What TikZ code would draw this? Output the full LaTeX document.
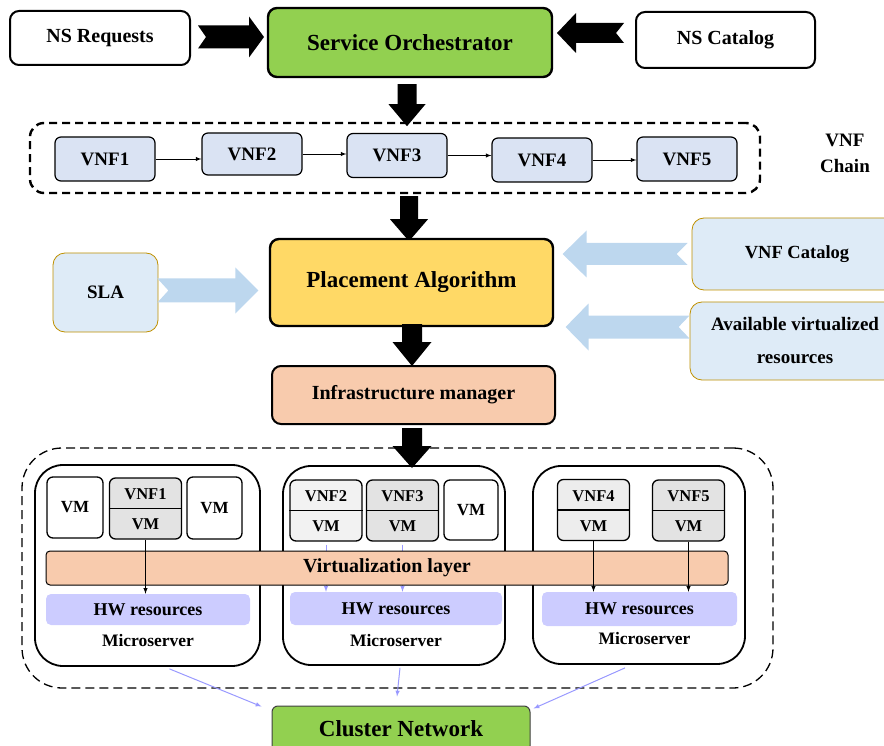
\documentclass[tikz,border=0pt]{standalone}
\usepackage{fontspec}
\setmainfont{Liberation Serif}
\usepackage{tikz}
\usetikzlibrary{calc, positioning}
\definecolor{orchgreen}{HTML}{92D050}
\definecolor{chainblue}{HTML}{DAE3F3}
\definecolor{algyellow}{HTML}{FFD966}
\definecolor{inputblue}{HTML}{DEEBF7}
\definecolor{inputgold}{HTML}{BF9000}
\definecolor{flowblue}{HTML}{BDD7EE}
\definecolor{peach}{HTML}{F8CBAD}
\definecolor{hwlilac}{HTML}{CCCCFF}
\definecolor{linklilac}{HTML}{9999FF}
\newcommand{\fsz}[1]{\fontsize{#1}{#1}\selectfont\bfseries}
\tikzstyle{mainbox}=[draw, line width=2pt, rounded corners=9pt, align=center]
\tikzstyle{chainbox}=[draw, line width=1.2pt, rounded corners=6pt, fill=chainblue, minimum width=100pt, minimum height=44pt, font=\fsz{19}]
\tikzstyle{inputbox}=[draw=inputgold, line width=0.8pt, rounded corners=12pt, fill=inputblue, align=center]
\tikzstyle{vmbox}=[draw, line width=1.3pt, rounded corners=6pt, font=\fsz{17}]
\tikzstyle{hwbox}=[fill=hwlilac, rounded corners=5pt, minimum height=32pt, font=\fsz{18}]
\tikzstyle{msbox}=[draw, line width=1.8pt, rounded corners=28pt]
\tikzstyle{link}=[linklilac, line width=1pt, -latex]
\tikzset{
  pics/notched/.style n args={5}{code={
    \fill (0,0) -- (-#4,-#3) -- (-#4,-#2) -- (-#1,-#2) -- (-#1+#5,0) -- (-#1,#2) -- (-#4,#2) -- (-#4,#3) -- cycle;}},
}

\begin{document}
\begin{tikzpicture}[x=1pt, y=-1pt]
    \useasboundingbox (0,0) rectangle (884,746);
    % top row
    \node[mainbox, minimum width=180pt, minimum height=54pt, font=\fsz{20}] (req) at (100,38) {NS Requests};
    \node[mainbox, fill=orchgreen, line width=2.4pt, minimum width=284pt, minimum height=69pt, font=\fsz{23}] (so) at (410,42.5) {Service Orchestrator};
    \node[mainbox, minimum width=179pt, minimum height=56pt, font=\fsz{20}] (cat) at (725.5,40) {NS Catalog};
    \pic[black] at ($(req.east)+(73,-1)$) {notched={66}{11.5}{20.5}{15}{8}};
    \pic[black, rotate=180] at ($(cat.west)+(-78,-7)$) {notched={67}{10}{20}{19}{8}};
    \pic[black, rotate=-90] at ($(so.south)+(-3,48)$) {notched={42}{9.5}{18.5}{22}{0}};

    % VNF chain
    \node[draw, dash pattern=on 8pt off 5pt, line width=2.4pt, rounded corners=14pt, minimum width=730pt, minimum height=70pt] (chain) at (395,158) {};
    \node[chainbox] (c1) at (105,159) {VNF1};
    \node[chainbox, minimum height=42pt] (c2) at (252,154) {VNF2};
    \node[chainbox] (c3) at (397,155.5) {VNF3};
    \node[chainbox] (c4) at (542,160) {VNF4};
    \node[chainbox] (c5) at (687,159) {VNF5};
    \foreach \a/\b in {c1/c2, c2/c3, c3/c4, c4/c5}
        \draw[-latex, line width=0.9pt] (\a.east) -- (\a.east -| \b.west);
    \node[font=\fontsize{19}{26}\selectfont\bfseries, align=center] (chainlbl) at (845,153) {VNF\\Chain};
    \pic[black, rotate=-90] at ($(chain.south -| so.south)+(-1,47)$) {notched={45}{9}{19}{22}{0}};

    % placement
    \node[mainbox, fill=algyellow, line width=2.4pt, minimum width=283pt, minimum height=87pt, font=\fsz{23}] (pla) at (411.5,282.5) {Placement Algorithm};
    \node[inputbox, minimum width=105pt, minimum height=79pt, font=\fsz{19}] (sla) at (105.5,292.5) {SLA};
    \node[inputbox, minimum width=210pt, minimum height=72pt, font=\fsz{18.5}] (vcat) at (797,254) {VNF Catalog};
    \node[inputbox, minimum width=210pt, minimum height=78pt, font=\fontsize{19}{33}\selectfont\bfseries] (avr) at (795,341) {Available virtualized\\resources};
    \pic[flowblue] at ($(sla.east)+(100,-2)$) {notched={101}{12}{23}{23}{11}};
    \pic[flowblue, rotate=180] at ($(vcat.west)+(-129,0)$) {notched={125}{11}{23.5}{24}{11}};
    \pic[flowblue, rotate=180] at ($(avr.west)+(-124,-14)$) {notched={124}{11.5}{23.5}{23}{11}};

    \node[mainbox, fill=peach, minimum width=283pt, minimum height=58pt, font=\fsz{20}] (im) at (413.5,395) {Infrastructure manager};
    \pic[black, rotate=-90] at ($(im.north)+(-1.5,1)$) {notched={42}{10}{19.5}{24}{0}};

    % cluster of microservers
    \node[draw, dash pattern=on 9pt off 5pt, line width=1.3pt, rounded corners=40pt, minimum width=751pt, minimum height=240pt] (cluster) at (397.5,568) {};
    \node[msbox, minimum width=225pt, minimum height=201pt] (ms1) at (147.5,565.5) {};
    \node[msbox, minimum width=222pt, minimum height=199pt] (ms2) at (394,565.5) {};
    \node[msbox, minimum width=212pt, minimum height=198pt] (ms3) at (639,565) {};
    \pic[black, rotate=-90] at ($(im.south)+(-1.5,43)$) {notched={40}{10}{19.5}{22}{0}};

    \node[vmbox, fill=white, minimum width=56pt, minimum height=61pt] (vm1) at (75,507.5) {VM};
    \node[vmbox, fill=white, minimum width=55pt, minimum height=62pt] (vm2) at (214.5,508) {VM};
    \node[vmbox, fill=white, minimum width=54pt, minimum height=60pt] (vm3) at (471,510) {VM};
    \foreach \nm/\px/\py/\lbl/\shade in {va/145.5/508.5/VNF1/11, vb/326/510.5/VNF2/5, vc/402.5/510.5/VNF3/11, vd/593.5/510/VNF4/7, ve/688.5/510.5/VNF5/11} {
        \node[vmbox, fill=black!\shade, minimum width=72pt, minimum height=61pt] (\nm) at (\px,\py) {};
        \draw[line width=1.3pt] (\nm.west) -- (\nm.east);
        \node[font=\fsz{16.5}] (\nm-top) at ($(\nm.center)+(0,-14)$) {\lbl};
        \node[font=\fsz{16.5}] (\nm-bot) at ($(\nm.center)+(0,16)$) {VM};
    }

    \node[hwbox, minimum width=204pt, minimum height=31pt] (hw1) at (148,609.5) {HW resources};
    \node[hwbox, minimum width=212pt, minimum height=33pt] (hw2) at (396,608.5) {HW resources};
    \node[hwbox, minimum width=195pt, minimum height=34pt] (hw3) at (639.5,609) {HW resources};
    \draw[link] ($(vb.south)+(0,3)$) -- (vb.south |- hw2.north);
    \draw[link] ($(vc.south)+(0,3)$) -- (vc.south |- hw2.north);
    \node[draw, line width=1pt, rounded corners=4pt, fill=peach, minimum width=682pt, minimum height=34pt, font=\fsz{20}] (vl) at (387,568) {Virtualization layer};
    \draw[-latex, line width=1pt] (va.south) -- (va.south |- hw1.north);
    \draw[-latex, line width=1pt] (vd.south) -- (vd.south |- hw3.north);
    \draw[-latex, line width=1pt] (ve.south) -- (ve.south |- hw3.north);
    \node[font=\fsz{17.5}, below=6pt of hw1] (ms1lbl) {Microserver};
    \node[font=\fsz{17.5}, below=6pt of hw2] (ms2lbl) {Microserver};
    \node[font=\fsz{17.5}, below=3pt of hw3, xshift=5pt] (ms3lbl) {Microserver};

    % cluster network
    \node[draw=black!75, line width=1pt, rounded corners=6pt, fill=orchgreen, minimum width=258pt, minimum height=46pt, font=\fsz{23}] (cn) at (401,729) {Cluster Network};
    \draw[link] ($(ms1.south)+(22,2)$) -- ($(cn.north west)+(-10,1)$);
    \draw[link] ($(ms2.south)+(6,2)$) -- ($(cn.north)+(-4,-9)$);
    \draw[link] ($(ms3.south)+(-14,3)$) -- ($(cn.north east)+(3,3)$);
\end{tikzpicture}
\end{document}
